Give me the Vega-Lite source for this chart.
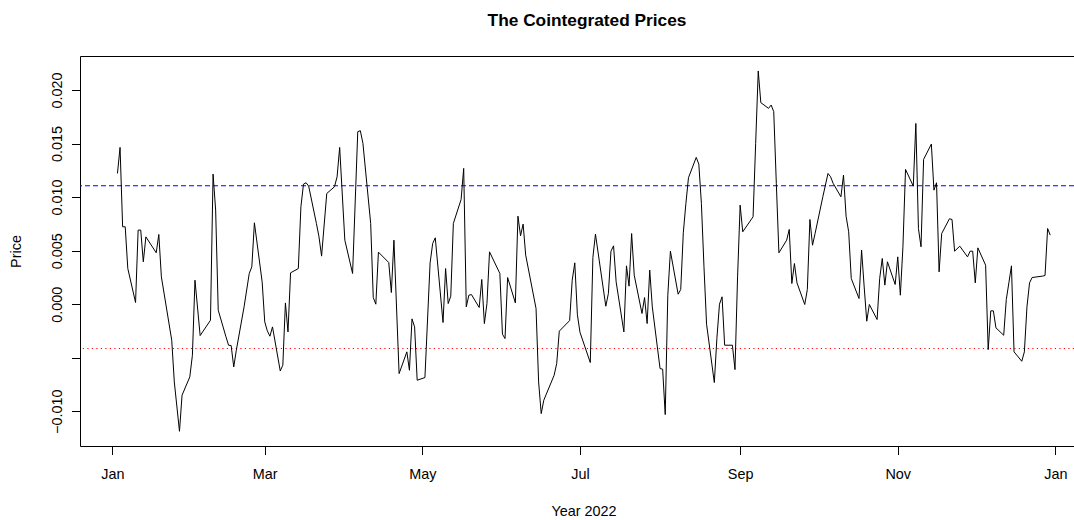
{
  "$schema": "https://vega.github.io/schema/vega-lite/v6.json",
  "width": 994,
  "height": 390,
  "autosize": "none",
  "padding": {"left": 80, "top": 56, "right": 0, "bottom": 74},
  "background": "white",
  "title": {"text": "The Cointegrated Prices", "font": "Liberation Sans", "fontSize": 17.3, "fontWeight": "bold", "color": "black", "anchor": "middle", "baseline": "alphabetic", "offset": 13, "dx": 10},
  "datasets": {
    "prices": [
      {"date": "2022-01-03", "price": 0.01221}, {"date": "2022-01-04", "price": 0.01464}, {"date": "2022-01-05", "price": 0.00723}, {"date": "2022-01-06", "price": 0.00723}, {"date": "2022-01-07", "price": 0.00333}, {"date": "2022-01-10", "price": 0.00016}, {"date": "2022-01-11", "price": 0.00692}, {"date": "2022-01-12", "price": 0.00692}, {"date": "2022-01-13", "price": 0.00396}, {"date": "2022-01-14", "price": 0.00629}, {"date": "2022-01-18", "price": 0.00480}, {"date": "2022-01-19", "price": 0.00651}, {"date": "2022-01-20", "price": 0.00255}, {"date": "2022-01-24", "price": -0.00336}, {"date": "2022-01-25", "price": -0.00726}, {"date": "2022-01-27", "price": -0.01187}, {"date": "2022-01-28", "price": -0.00850}, {"date": "2022-01-31", "price": -0.00679},
      {"date": "2022-02-01", "price": -0.00477}, {"date": "2022-02-02", "price": 0.00224}, {"date": "2022-02-04", "price": -0.00293}, {"date": "2022-02-08", "price": -0.00150}, {"date": "2022-02-09", "price": 0.01215}, {"date": "2022-02-10", "price": 0.00879}, {"date": "2022-02-11", "price": -0.00056}, {"date": "2022-02-14", "price": -0.00305}, {"date": "2022-02-15", "price": -0.00383}, {"date": "2022-02-16", "price": -0.00386}, {"date": "2022-02-17", "price": -0.00586}, {"date": "2022-02-18", "price": -0.00430}, {"date": "2022-02-21", "price": -0.00025}, {"date": "2022-02-23", "price": 0.00287}, {"date": "2022-02-24", "price": 0.00349}, {"date": "2022-02-25", "price": 0.00760}, {"date": "2022-02-28", "price": 0.00209},
      {"date": "2022-03-01", "price": -0.00165}, {"date": "2022-03-02", "price": -0.00249}, {"date": "2022-03-03", "price": -0.00299}, {"date": "2022-03-04", "price": -0.00212}, {"date": "2022-03-07", "price": -0.00623}, {"date": "2022-03-08", "price": -0.00570}, {"date": "2022-03-09", "price": 0.00012}, {"date": "2022-03-10", "price": -0.00259}, {"date": "2022-03-11", "price": 0.00293}, {"date": "2022-03-14", "price": 0.00333}, {"date": "2022-03-15", "price": 0.00910}, {"date": "2022-03-16", "price": 0.01121}, {"date": "2022-03-17", "price": 0.01134}, {"date": "2022-03-18", "price": 0.01103}, {"date": "2022-03-21", "price": 0.00754}, {"date": "2022-03-22", "price": 0.00629}, {"date": "2022-03-23", "price": 0.00449}, {"date": "2022-03-25", "price": 0.01034}, {"date": "2022-03-28", "price": 0.01097}, {"date": "2022-03-29", "price": 0.01190}, {"date": "2022-03-30", "price": 0.01464},
      {"date": "2022-04-01", "price": 0.00598}, {"date": "2022-04-04", "price": 0.00287}, {"date": "2022-04-06", "price": 0.01611}, {"date": "2022-04-07", "price": 0.01620}, {"date": "2022-04-08", "price": 0.01502}, {"date": "2022-04-11", "price": 0.00754}, {"date": "2022-04-12", "price": 0.00062}, {"date": "2022-04-13", "price": 0.00000}, {"date": "2022-04-14", "price": 0.00486}, {"date": "2022-04-18", "price": 0.00389}, {"date": "2022-04-19", "price": 0.00109}, {"date": "2022-04-20", "price": 0.00598}, {"date": "2022-04-22", "price": -0.00648}, {"date": "2022-04-25", "price": -0.00445}, {"date": "2022-04-26", "price": -0.00617}, {"date": "2022-04-27", "price": -0.00137}, {"date": "2022-04-28", "price": -0.00212}, {"date": "2022-04-29", "price": -0.00710},
      {"date": "2022-05-02", "price": -0.00685}, {"date": "2022-05-04", "price": 0.00386}, {"date": "2022-05-05", "price": 0.00567}, {"date": "2022-05-06", "price": 0.00620}, {"date": "2022-05-09", "price": -0.00171}, {"date": "2022-05-10", "price": 0.00333}, {"date": "2022-05-11", "price": 0.00006}, {"date": "2022-05-12", "price": 0.00075}, {"date": "2022-05-13", "price": 0.00754}, {"date": "2022-05-16", "price": 0.00978}, {"date": "2022-05-17", "price": 0.01268}, {"date": "2022-05-18", "price": -0.00025}, {"date": "2022-05-19", "price": 0.00084}, {"date": "2022-05-20", "price": 0.00090}, {"date": "2022-05-23", "price": -0.00031}, {"date": "2022-05-24", "price": 0.00231}, {"date": "2022-05-25", "price": -0.00181}, {"date": "2022-05-26", "price": 0.00006}, {"date": "2022-05-27", "price": 0.00489}, {"date": "2022-05-31", "price": 0.00287},
      {"date": "2022-06-01", "price": -0.00280}, {"date": "2022-06-02", "price": -0.00321}, {"date": "2022-06-03", "price": 0.00249}, {"date": "2022-06-06", "price": 0.00012}, {"date": "2022-06-07", "price": 0.00822}, {"date": "2022-06-08", "price": 0.00639}, {"date": "2022-06-09", "price": 0.00748}, {"date": "2022-06-10", "price": 0.00458}, {"date": "2022-06-14", "price": -0.00040}, {"date": "2022-06-15", "price": -0.00726}, {"date": "2022-06-16", "price": -0.01022}, {"date": "2022-06-17", "price": -0.00897}, {"date": "2022-06-21", "price": -0.00664}, {"date": "2022-06-22", "price": -0.00554}, {"date": "2022-06-23", "price": -0.00252}, {"date": "2022-06-27", "price": -0.00153}, {"date": "2022-06-28", "price": 0.00224}, {"date": "2022-06-29", "price": 0.00386}, {"date": "2022-06-30", "price": -0.00097},
      {"date": "2022-07-01", "price": -0.00262}, {"date": "2022-07-05", "price": -0.00545}, {"date": "2022-07-06", "price": 0.00436}, {"date": "2022-07-07", "price": 0.00654}, {"date": "2022-07-11", "price": -0.00019}, {"date": "2022-07-12", "price": 0.00100}, {"date": "2022-07-13", "price": 0.00495}, {"date": "2022-07-14", "price": 0.00545}, {"date": "2022-07-15", "price": 0.00209}, {"date": "2022-07-18", "price": -0.00259}, {"date": "2022-07-19", "price": 0.00358}, {"date": "2022-07-20", "price": 0.00168}, {"date": "2022-07-21", "price": 0.00660}, {"date": "2022-07-22", "price": 0.00271}, {"date": "2022-07-25", "price": -0.00087}, {"date": "2022-07-26", "price": 0.00062}, {"date": "2022-07-27", "price": -0.00181}, {"date": "2022-07-28", "price": 0.00318}, {"date": "2022-07-29", "price": -0.00025},
      {"date": "2022-08-01", "price": -0.00601}, {"date": "2022-08-02", "price": -0.00607}, {"date": "2022-08-03", "price": -0.01031}, {"date": "2022-08-04", "price": 0.00084}, {"date": "2022-08-05", "price": 0.00495}, {"date": "2022-08-08", "price": 0.00093}, {"date": "2022-08-09", "price": 0.00137}, {"date": "2022-08-10", "price": 0.00667}, {"date": "2022-08-11", "price": 0.00941}, {"date": "2022-08-12", "price": 0.01181}, {"date": "2022-08-15", "price": 0.01371}, {"date": "2022-08-16", "price": 0.01308}, {"date": "2022-08-17", "price": 0.00941}, {"date": "2022-08-18", "price": 0.00349}, {"date": "2022-08-19", "price": -0.00187}, {"date": "2022-08-22", "price": -0.00732}, {"date": "2022-08-23", "price": -0.00318}, {"date": "2022-08-24", "price": 0.00000}, {"date": "2022-08-25", "price": 0.00069}, {"date": "2022-08-26", "price": -0.00383}, {"date": "2022-08-29", "price": -0.00383}, {"date": "2022-08-30", "price": -0.00611}, {"date": "2022-08-31", "price": 0.00255},
      {"date": "2022-09-01", "price": 0.00925}, {"date": "2022-09-02", "price": 0.00676}, {"date": "2022-09-06", "price": 0.00816}, {"date": "2022-09-07", "price": 0.01502}, {"date": "2022-09-08", "price": 0.02178}, {"date": "2022-09-09", "price": 0.01882}, {"date": "2022-09-12", "price": 0.01829}, {"date": "2022-09-13", "price": 0.01860}, {"date": "2022-09-14", "price": 0.01798}, {"date": "2022-09-15", "price": 0.01128}, {"date": "2022-09-16", "price": 0.00480}, {"date": "2022-09-19", "price": 0.00598}, {"date": "2022-09-20", "price": 0.00698}, {"date": "2022-09-21", "price": 0.00193}, {"date": "2022-09-22", "price": 0.00380}, {"date": "2022-09-23", "price": 0.00199}, {"date": "2022-09-26", "price": -0.00003}, {"date": "2022-09-27", "price": 0.00137}, {"date": "2022-09-28", "price": 0.00791}, {"date": "2022-09-29", "price": 0.00551}, {"date": "2022-09-30", "price": 0.00660},
      {"date": "2022-10-03", "price": 0.01003}, {"date": "2022-10-04", "price": 0.01112}, {"date": "2022-10-05", "price": 0.01221}, {"date": "2022-10-06", "price": 0.01190}, {"date": "2022-10-07", "price": 0.01128}, {"date": "2022-10-10", "price": 0.01003}, {"date": "2022-10-11", "price": 0.01206}, {"date": "2022-10-12", "price": 0.00822}, {"date": "2022-10-13", "price": 0.00676}, {"date": "2022-10-14", "price": 0.00240}, {"date": "2022-10-17", "price": 0.00053}, {"date": "2022-10-18", "price": 0.00505}, {"date": "2022-10-19", "price": 0.00162}, {"date": "2022-10-20", "price": -0.00159}, {"date": "2022-10-21", "price": -0.00003}, {"date": "2022-10-24", "price": -0.00143}, {"date": "2022-10-25", "price": 0.00240}, {"date": "2022-10-26", "price": 0.00427}, {"date": "2022-10-27", "price": 0.00178}, {"date": "2022-10-28", "price": 0.00396}, {"date": "2022-10-31", "price": 0.00184},
      {"date": "2022-11-01", "price": 0.00442}, {"date": "2022-11-02", "price": 0.00084}, {"date": "2022-11-03", "price": 0.00536}, {"date": "2022-11-04", "price": 0.01259}, {"date": "2022-11-07", "price": 0.01103}, {"date": "2022-11-08", "price": 0.01688}, {"date": "2022-11-09", "price": 0.00707}, {"date": "2022-11-10", "price": 0.00536}, {"date": "2022-11-11", "price": 0.01352}, {"date": "2022-11-14", "price": 0.01495}, {"date": "2022-11-15", "price": 0.01065}, {"date": "2022-11-16", "price": 0.01134}, {"date": "2022-11-17", "price": 0.00302}, {"date": "2022-11-18", "price": 0.00660}, {"date": "2022-11-21", "price": 0.00798}, {"date": "2022-11-22", "price": 0.00791}, {"date": "2022-11-23", "price": 0.00495}, {"date": "2022-11-25", "price": 0.00542}, {"date": "2022-11-28", "price": 0.00442}, {"date": "2022-11-29", "price": 0.00495}, {"date": "2022-11-30", "price": 0.00495},
      {"date": "2022-12-01", "price": 0.00199}, {"date": "2022-12-02", "price": 0.00526}, {"date": "2022-12-05", "price": 0.00364}, {"date": "2022-12-06", "price": -0.00424}, {"date": "2022-12-07", "price": -0.00062}, {"date": "2022-12-08", "price": -0.00062}, {"date": "2022-12-09", "price": -0.00221}, {"date": "2022-12-12", "price": -0.00290}, {"date": "2022-12-13", "price": 0.00044}, {"date": "2022-12-14", "price": 0.00199}, {"date": "2022-12-15", "price": 0.00358}, {"date": "2022-12-16", "price": -0.00445}, {"date": "2022-12-19", "price": -0.00533}, {"date": "2022-12-20", "price": -0.00445}, {"date": "2022-12-21", "price": -0.00025}, {"date": "2022-12-22", "price": 0.00199}, {"date": "2022-12-23", "price": 0.00249}, {"date": "2022-12-27", "price": 0.00262}, {"date": "2022-12-28", "price": 0.00268}, {"date": "2022-12-29", "price": 0.00707}, {"date": "2022-12-30", "price": 0.00645}
    ],
    "levels": [
      {"kind": "upper", "price": 0.01106},
      {"kind": "lower", "price": -0.00414}
    ]
  },
  "layer": [
    {
      "data": {"name": "levels"},
      "transform": [{"filter": "datum.kind == 'upper'"}],
      "mark": {"type": "rule", "color": "blue", "strokeWidth": 1, "strokeDash": [5, 3]},
      "encoding": {
        "y": {"field": "price", "type": "quantitative", "scale": {"domain": [-0.013243, 0.023178], "nice": false, "zero": false}}
      }
    },
    {
      "data": {"name": "levels"},
      "transform": [{"filter": "datum.kind == 'lower'"}],
      "mark": {"type": "rule", "color": "red", "strokeWidth": 1, "strokeDash": [1.2, 3.3]},
      "encoding": {
        "y": {"field": "price", "type": "quantitative", "scale": {"domain": [-0.013243, 0.023178], "nice": false, "zero": false}}
      }
    },
    {
      "data": {"name": "prices"},
      "mark": {"type": "line", "color": "black", "strokeWidth": 1},
      "encoding": {
        "x": {
          "field": "date", "type": "temporal",
          "scale": {"type": "utc", "domain": [{"year": 2021, "month": 12, "date": 19, "hours": 12, "utc": true}, {"year": 2023, "month": 1, "date": 8, "hours": 5, "utc": true}]},
          "axis": {
            "orient": "bottom", "title": "Year 2022",
            "labelExpr": "utcFormat(datum.value, '%b')",
            "values": [
              {"year": 2022, "month": 1, "date": 1, "utc": true},
              {"year": 2022, "month": 3, "date": 1, "utc": true},
              {"year": 2022, "month": 5, "date": 1, "utc": true},
              {"year": 2022, "month": 7, "date": 1, "utc": true},
              {"year": 2022, "month": 9, "date": 1, "utc": true},
              {"year": 2022, "month": 11, "date": 1, "utc": true},
              {"year": 2023, "month": 1, "date": 1, "utc": true}
            ],
            "labelBaseline": "alphabetic", "labelPadding": 24.4, "labelAlign": "center",
            "titleX": 503.5, "titleY": 69.5, "titleAnchor": "start", "titleAlign": "center", "titleBaseline": "alphabetic"
          }
        },
        "y": {
          "field": "price", "type": "quantitative",
          "scale": {"domain": [-0.013243, 0.023178], "nice": false, "zero": false},
          "axis": {
            "orient": "left", "title": "Price",
            "values": [-0.01, -0.005, 0, 0.005, 0.01, 0.015, 0.02],
            "labelExpr": "abs(datum.value + 0.005) < 1e-9 ? '' : format(datum.value, '.3f')",
            "labelAngle": 270, "labelAlign": "center", "labelBaseline": "alphabetic", "labelPadding": 10,
            "titleAngle": 270, "titleX": -60, "titleY": 195, "titleAlign": "center", "titleBaseline": "alphabetic", "titleAnchor": "start"
          }
        }
      }
    },
    {
      "data": {"name": "prices"},
      "mark": {"type": "line", "strokeOpacity": 0},
      "encoding": {
        "x": {
          "field": "date", "type": "temporal",
          "scale": {"type": "utc", "domain": [{"year": 2021, "month": 12, "date": 19, "hours": 12, "utc": true}, {"year": 2023, "month": 1, "date": 8, "hours": 5, "utc": true}]},
          "axis": {"orient": "top", "title": null, "labels": false, "ticks": false, "domain": true}
        },
        "y": {"field": "price", "type": "quantitative", "scale": {"domain": [-0.013243, 0.023178], "nice": false, "zero": false}}
      }
    }
  ],
  "resolve": {"axis": {"x": "independent"}},
  "config": {
    "view": {"stroke": null},
    "axis": {
      "grid": false, "domainColor": "black", "tickColor": "black", "labelColor": "black", "titleColor": "black",
      "labelFont": "Liberation Sans", "titleFont": "Liberation Sans", "labelFontSize": 14.4, "titleFontSize": 14.4,
      "titleFontWeight": "normal", "tickSize": 8.5, "domainWidth": 1, "tickWidth": 1,
      "labelFlush": false, "labelOverlap": false, "labelBound": false
    }
  }
}
